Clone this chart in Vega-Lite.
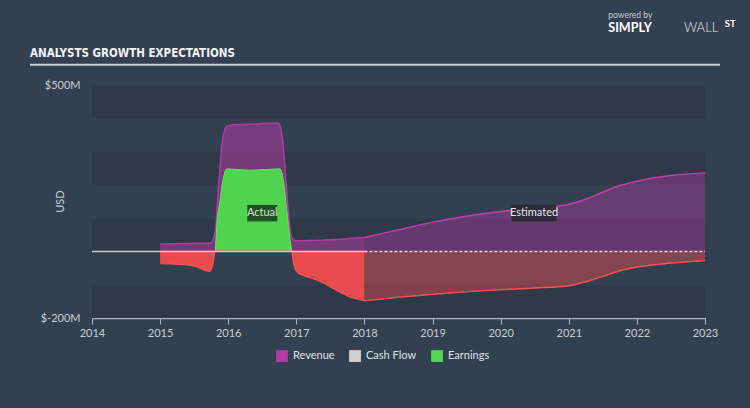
{
  "$schema": "https://vega.github.io/schema/vega-lite/v6.json",
  "width": 613,
  "height": 233,
  "autosize": {"type": "none"},
  "padding": {"left": 92, "top": 85, "right": 45, "bottom": 90},
  "background": "#334050",
  "config": {
    "view": {"stroke": null},
    "font": "Lato",
    "axis": {"grid": false, "labelFont": "Lato", "titleFont": "Lato"}
  },
  "datasets": {
    "one": [{}],
    "bands": [
      {"lo": 400, "hi": 500},
      {"lo": 200, "hi": 300},
      {"lo": 0, "hi": 100},
      {"lo": -200, "hi": -100}
    ],
    "revenue": [
      {"year": 2015.0, "value": 22, "series": "Revenue"},
      {"year": 2015.4, "value": 24, "series": "Revenue"},
      {"year": 2015.74, "value": 25, "series": "Revenue"},
      {"year": 2015.81, "value": 60, "series": "Revenue"},
      {"year": 2015.86, "value": 200, "series": "Revenue"},
      {"year": 2015.92, "value": 340, "series": "Revenue"},
      {"year": 2015.98, "value": 376, "series": "Revenue"},
      {"year": 2016.05, "value": 380, "series": "Revenue"},
      {"year": 2016.4, "value": 383, "series": "Revenue"},
      {"year": 2016.74, "value": 386, "series": "Revenue"},
      {"year": 2016.785, "value": 353, "series": "Revenue"},
      {"year": 2016.834, "value": 253, "series": "Revenue"},
      {"year": 2016.88, "value": 123, "series": "Revenue"},
      {"year": 2016.93, "value": 43, "series": "Revenue"},
      {"year": 2016.98, "value": 32, "series": "Revenue"},
      {"year": 2017.5, "value": 35, "series": "Revenue"},
      {"year": 2018.0, "value": 42, "series": "Revenue"}
    ],
    "revenueEst": [
      {"year": 2018.0, "value": 42},
      {"year": 2018.5, "value": 65},
      {"year": 2019.0, "value": 88},
      {"year": 2019.5, "value": 106},
      {"year": 2020.0, "value": 120},
      {"year": 2020.5, "value": 131},
      {"year": 2021.0, "value": 142},
      {"year": 2021.25, "value": 157},
      {"year": 2021.5, "value": 178},
      {"year": 2021.75, "value": 198},
      {"year": 2022.0, "value": 211},
      {"year": 2022.5, "value": 228},
      {"year": 2023.0, "value": 236}
    ],
    "earnPos": [
      {"year": 2015.81, "value": 0},
      {"year": 2015.83, "value": 73},
      {"year": 2015.88, "value": 153},
      {"year": 2015.93, "value": 223},
      {"year": 2015.98, "value": 248},
      {"year": 2016.3, "value": 244},
      {"year": 2016.55, "value": 246},
      {"year": 2016.76, "value": 248},
      {"year": 2016.81, "value": 213},
      {"year": 2016.86, "value": 123},
      {"year": 2016.91, "value": 33},
      {"year": 2016.93, "value": 0}
    ],
    "earnNeg": [
      {"year": 2015.0, "value": -37, "seg": "a"},
      {"year": 2015.3, "value": -39, "seg": "a"},
      {"year": 2015.45, "value": -42, "seg": "a"},
      {"year": 2015.55, "value": -47, "seg": "a"},
      {"year": 2015.66, "value": -57, "seg": "a"},
      {"year": 2015.73, "value": -60, "seg": "a"},
      {"year": 2015.77, "value": -42, "seg": "a"},
      {"year": 2015.81, "value": 0, "seg": "a"},
      {"year": 2016.93, "value": 0, "seg": "b"},
      {"year": 2016.96, "value": -37, "seg": "b"},
      {"year": 2017.0, "value": -59, "seg": "b"},
      {"year": 2017.1, "value": -72, "seg": "b"},
      {"year": 2017.25, "value": -82, "seg": "b"},
      {"year": 2017.4, "value": -95, "seg": "b"},
      {"year": 2017.59, "value": -117, "seg": "b"},
      {"year": 2017.79, "value": -137, "seg": "b"},
      {"year": 2018.0, "value": -148, "seg": "b"}
    ],
    "earnEst": [
      {"year": 2018.0, "value": -148},
      {"year": 2018.5, "value": -138},
      {"year": 2019.0, "value": -129},
      {"year": 2019.5, "value": -121},
      {"year": 2020.0, "value": -115},
      {"year": 2020.5, "value": -110},
      {"year": 2021.0, "value": -103},
      {"year": 2021.25, "value": -91},
      {"year": 2021.5, "value": -75},
      {"year": 2021.75, "value": -58},
      {"year": 2022.0, "value": -47},
      {"year": 2022.5, "value": -35},
      {"year": 2023.0, "value": -27}
    ]
  },
  "layer": [
    {
      "data": {"name": "bands"},
      "mark": {"type": "rect", "color": "#2e3a48"},
      "encoding": {
        "x": {"datum": 2014, "type": "quantitative"},
        "x2": {"datum": 2023},
        "y": {"field": "lo", "type": "quantitative"},
        "y2": {"field": "hi"}
      }
    },
    {
      "data": {"name": "revenue"},
      "mark": {"type": "area", "interpolate": "monotone", "opacity": 1, "fillOpacity": 0.55, "line": {"strokeWidth": 1.5}},
      "encoding": {
        "x": {
          "field": "year",
          "type": "quantitative",
          "scale": {"domain": [2014, 2023], "nice": false, "zero": false},
          "axis": {
            "title": null,
            "values": [2014, 2015, 2016, 2017, 2018, 2019, 2020, 2021, 2022, 2023],
            "format": "d",
            "labelFlush": false,
            "labelOverlap": false,
            "domainColor": "#a9b5c2",
            "domainWidth": 1.5,
            "tickColor": "#a9b5c2",
            "tickSize": 6,
            "labelColor": "#c9ced5",
            "labelFontSize": 11,
            "labelPadding": 3
          }
        },
        "y": {
          "field": "value",
          "type": "quantitative",
          "scale": {"domain": [-200, 500], "nice": false},
          "axis": {
            "title": "USD",
            "values": [-200, 500],
            "labelExpr": "datum.value == 500 ? '$500M' : '$-200M'",
            "domain": false,
            "ticks": false,
            "labelColor": "#c9ced5",
            "labelFontSize": 11,
            "labelPadding": 12,
            "titleColor": "#c9ced5",
            "titleFontSize": 11,
            "titleFontWeight": "normal",
            "titleX": -32,
            "titleY": 116,
            "titleAlign": "center",
            "titleBaseline": "middle",
            "titleAngle": -90
          }
        },
        "color": {
          "field": "series",
          "type": "nominal",
          "scale": {"domain": ["Revenue", "Cash Flow", "Earnings"], "range": ["#b33aa3", "#d0d0d0", "#53d453"]},
          "legend": {
            "title": null,
            "orient": "none",
            "legendX": 184,
            "legendY": 265,
            "direction": "horizontal",
            "symbolType": "square",
            "symbolSize": 140,
            "symbolOpacity": 1,
            "symbolStrokeWidth": 0,
            "labelFont": "Lato",
            "labelFontSize": 11,
            "labelColor": "#dfe3e8",
            "labelOffset": 5,
            "columnPadding": 14
          }
        }
      }
    },
    {
      "data": {"name": "revenueEst"},
      "mark": {"type": "area", "interpolate": "monotone", "color": "#b33aa3", "opacity": 1, "fillOpacity": 0.42, "line": {"color": "#c23db2", "strokeWidth": 1.5}},
      "encoding": {
        "x": {"field": "year", "type": "quantitative"},
        "y": {"field": "value", "type": "quantitative"}
      }
    },
    {
      "data": {"name": "earnPos"},
      "mark": {"type": "area", "interpolate": "monotone", "color": "#50d450", "opacity": 1, "fillOpacity": 1, "line": {"color": "#66e266", "strokeWidth": 1}},
      "encoding": {
        "x": {"field": "year", "type": "quantitative"},
        "y": {"field": "value", "type": "quantitative"}
      }
    },
    {
      "data": {"name": "earnNeg"},
      "mark": {"type": "area", "interpolate": "monotone", "color": "#e94c4e", "opacity": 1, "fillOpacity": 1, "line": {"color": "#ff5252", "strokeWidth": 1.2}},
      "encoding": {
        "x": {"field": "year", "type": "quantitative"},
        "y": {"field": "value", "type": "quantitative"},
        "detail": {"field": "seg"}
      }
    },
    {
      "data": {"name": "earnEst"},
      "mark": {"type": "area", "interpolate": "monotone", "color": "#e94c4e", "opacity": 1, "fillOpacity": 0.45, "line": {"color": "#ff4f4f", "strokeWidth": 1.5}},
      "encoding": {
        "x": {"field": "year", "type": "quantitative"},
        "y": {"field": "value", "type": "quantitative"}
      }
    },
    {
      "data": {"name": "one"},
      "mark": {"type": "rule", "color": "#c5ccd4", "strokeWidth": 1.5},
      "encoding": {"x": {"datum": 2014}, "x2": {"datum": 2018}, "y": {"datum": 0}}
    },
    {
      "data": {"name": "one"},
      "mark": {"type": "rule", "color": "#f0d4e6", "strokeWidth": 1.5, "strokeDash": [3, 2]},
      "encoding": {"x": {"datum": 2018}, "x2": {"datum": 2023}, "y": {"datum": 0}}
    },
    {
      "data": {"name": "one"},
      "mark": {"type": "point", "shape": "M-1,-0.55L1,-0.55L1,0.55L-1,0.55Z", "filled": true, "color": "#1f4a22", "opacity": 0.95, "size": 900},
      "encoding": {"x": {"datum": 2016.5}, "y": {"datum": 115}}
    },
    {
      "data": {"name": "one"},
      "mark": {"type": "text", "color": "#d6e6d6", "fontSize": 11, "font": "Lato"},
      "encoding": {"x": {"datum": 2016.5}, "y": {"datum": 115}, "text": {"value": "Actual"}}
    },
    {
      "data": {"name": "one"},
      "mark": {"type": "point", "shape": "M-1,-0.37L1,-0.37L1,0.37L-1,0.37Z", "filled": true, "color": "#252a35", "opacity": 0.9, "size": 2025},
      "encoding": {"x": {"datum": 2020.49}, "y": {"datum": 115}}
    },
    {
      "data": {"name": "one"},
      "mark": {"type": "text", "color": "#e6e8ec", "fontSize": 11, "font": "Lato"},
      "encoding": {"x": {"datum": 2020.49}, "y": {"datum": 115}, "text": {"value": "Estimated"}}
    },
    {
      "data": {"name": "one"},
      "mark": {"type": "text", "color": "#f2f4f6", "fontSize": 11.5, "fontWeight": "bold", "font": "DejaVu Sans Condensed", "align": "left", "baseline": "middle"},
      "encoding": {"x": {"datum": 2013.09}, "y": {"datum": 594}, "text": {"value": "ANALYSTS GROWTH EXPECTATIONS"}}
    },
    {
      "data": {"name": "one"},
      "mark": {"type": "rule", "color": "#c8d0d8", "strokeWidth": 2},
      "encoding": {"x": {"datum": 2013.09}, "x2": {"datum": 2023.22}, "y": {"datum": 561}}
    },
    {
      "data": {"name": "one"},
      "mark": {"type": "text", "color": "#c8ccd2", "fontSize": 8.5, "font": "Lato", "align": "left", "baseline": "middle"},
      "encoding": {"x": {"datum": 2021.58}, "y": {"datum": 711}, "text": {"value": "powered by"}}
    },
    {
      "data": {"name": "one"},
      "mark": {"type": "text", "color": "#ffffff", "fontSize": 12.5, "fontWeight": "bold", "font": "Lato", "align": "left", "baseline": "middle"},
      "encoding": {"x": {"datum": 2021.58}, "y": {"datum": 672}, "text": {"value": "SIMPLY"}}
    },
    {
      "data": {"name": "one"},
      "mark": {"type": "text", "color": "#e8eaee", "fontSize": 13, "fontWeight": 300, "font": "Lato", "align": "left", "baseline": "middle"},
      "encoding": {"x": {"datum": 2022.69}, "y": {"datum": 672}, "text": {"value": "WALL"}}
    },
    {
      "data": {"name": "one"},
      "mark": {"type": "text", "color": "#ffffff", "fontSize": 9.5, "fontWeight": "bold", "font": "Lato", "align": "left", "baseline": "middle", "underline": true},
      "encoding": {"x": {"datum": 2023.29}, "y": {"datum": 684}, "text": {"value": "ST"}}
    }
  ]
}
